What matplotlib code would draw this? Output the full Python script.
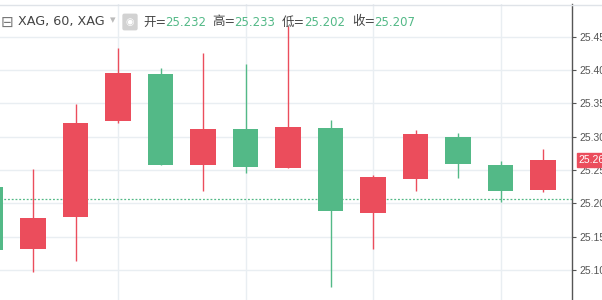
import matplotlib.pyplot as plt
import numpy as np

# candle data (60 min XAG bars)
opens = [25.225, 25.131, 25.179, 25.324, 25.394, 25.257, 25.312,
         25.253, 25.313, 25.185, 25.236, 25.300, 25.258, 25.220]
highs = [25.230, 25.251, 25.349, 25.433, 25.403, 25.426, 25.409,
         25.466, 25.325, 25.242, 25.310, 25.306, 25.263, 25.282]
lows = [25.120, 25.097, 25.114, 25.320, 25.257, 25.218, 25.246,
        25.253, 25.074, 25.131, 25.219, 25.238, 25.202, 25.217]
closes = [25.130, 25.178, 25.321, 25.395, 25.258, 25.311, 25.254,
          25.314, 25.188, 25.240, 25.304, 25.259, 25.218, 25.265]
yticks = [25.10, 25.15, 25.20, 25.25, 25.30, 25.35, 25.40, 25.45]
price_line = 25.207
last_price = 25.265
header = [("开=", "25.232"), ("高=", "25.233"), ("低=", "25.202"), ("收=", "25.207")]

UP = "#eb4d5c"
DOWN = "#53b987"
GRID = "#e9eef2"

plt.rcParams['font.family'] = ['DejaVu Sans', 'Noto Sans CJK SC']

fig = plt.figure(figsize=(6.02, 3.0), dpi=100)
ax = fig.add_axes([0, 0, 572 / 602, 296 / 300])

x = np.arange(len(opens))
o = np.array(opens)
c = np.array(closes)
colors = [UP if cc >= oo else DOWN for oo, cc in zip(o, c)]

ax.vlines(x, lows, highs, colors=colors, linewidth=1, zorder=2)
ax.bar(x, c - o, bottom=o, width=0.61, color=colors, zorder=3)

ax.axhline(price_line, color=DOWN, linestyle=(0, (1.5, 1.5)), linewidth=0.9, zorder=1)

ax.set_xlim(0.2235, 13.682)
ax.set_ylim(25.055, 25.499)
ax.set_xticks([3, 6, 9, 12])
ax.set_xticklabels([])
ax.tick_params(axis='x', length=0)
ax.set_yticks(yticks)
ax.set_yticklabels(["%.3f" % v for v in yticks])
ax.yaxis.tick_right()
ax.tick_params(axis='y', length=3, width=0.8, color="#555555", pad=2,
               labelsize=7.5, labelcolor="#555555")
for lbl in ax.get_yticklabels():
    lbl.set_family(['Liberation Sans', 'DejaVu Sans'])
ax.grid(True, color=GRID, linewidth=1, zorder=0)
ax.set_axisbelow(True)
for side in ['top', 'left', 'bottom']:
    ax.spines[side].set_visible(False)
ax.spines['right'].set_color("#555555")
ax.spines['right'].set_linewidth(1)

# last price label on the axis
ax.text(1.012, last_price, "%.3f" % last_price, transform=ax.get_yaxis_transform(),
        color="white", fontsize=7.5, va='center', ha='left', clip_on=False, zorder=5,
        family=['Liberation Sans', 'DejaVu Sans'],
        bbox=dict(boxstyle='square,pad=0.2', facecolor=UP, edgecolor=UP))

# top border
fig.add_artist(plt.Line2D([0, 1], [1 - 4.5 / 300, 1 - 4.5 / 300], color="#dfe3e8", linewidth=1))

# header legend
ty = 1 - 22 / 300
fig.text(1 / 602, ty, "⊟", fontsize=11, color="#777777", va='center')
fig.text(18 / 602, ty, "XAG, 60, XAG", fontsize=9.2, color="#444444", va='center')
fig.text(110 / 602, ty + 0.005, "▾", fontsize=8, color="#bbbbbb", va='center')
fig.text(130 / 602, ty, "◉", fontsize=7, color="white", va='center', ha='center',
         bbox=dict(boxstyle='round,pad=0.35,rounding_size=0.2', facecolor="#d2d2d2", edgecolor="none"))
xs = [143, 212, 282, 352]
for (lab, val), xp in zip(header, xs):
    fig.text(xp / 602, ty, lab, fontsize=9, color="#444444", va='center')
    fig.text((xp + 22) / 602, ty, val, fontsize=8.5, color=DOWN, va='center')

fig.savefig("out.png", dpi=100)
